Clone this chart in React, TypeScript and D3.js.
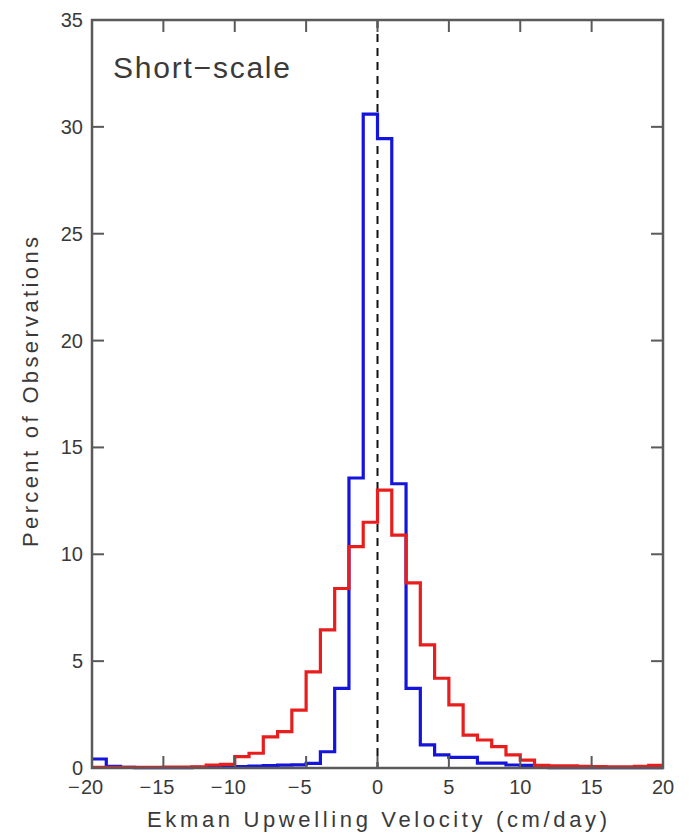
import React from 'react';
import * as d3 from 'd3';

// histogram bins are 1 cm/day wide, left edges from -20 to 19
const binEdges = d3.range(-20, 20);

const blueValues = [
  0.42, 0.08, 0.03, 0.02, 0.02, 0.02, 0.02, 0.03, 0.04, 0.05,
  0.07, 0.09, 0.11, 0.13, 0.15, 0.22, 0.76, 3.73, 13.57, 30.6,
  29.45, 13.3, 3.73, 1.08, 0.61, 0.5, 0.5, 0.23, 0.23, 0.14,
  0.12, 0.03, 0.02, 0.02, 0.02, 0.02, 0.02, 0.02, 0.02, 0.02,
];

const redValues = [
  0.03, 0.03, 0.03, 0.03, 0.03, 0.04, 0.04, 0.05, 0.14, 0.17,
  0.53, 0.69, 1.46, 1.7, 2.71, 4.5, 6.46, 8.4, 10.36, 11.5,
  13.0, 10.9, 8.66, 5.76, 4.2, 2.95, 1.54, 1.31, 1.0, 0.61,
  0.37, 0.12, 0.1, 0.1, 0.08, 0.06, 0.05, 0.05, 0.08, 0.12,
];

const xTicks = [-20, -15, -10, -5, 0, 5, 10, 15, 20];
const yTicks = [0, 5, 10, 15, 20, 25, 30, 35];

const W = 692;
const H = 833;
const margin = { top: 20, right: 29, bottom: 65, left: 92 };
const FONT = '"Liberation Sans", Arial, sans-serif';

export default function App() {
  const x = d3.scaleLinear().domain([-20, 20]).range([margin.left, W - margin.right]);
  const y = d3.scaleLinear().domain([0, 35]).range([H - margin.bottom, margin.top]);
  const [x0, x1] = x.range();
  const [yb, yt] = y.range();

  // step outline, last bin closed at its right edge
  const stepLine = (vals: number[]) => {
    const pts: [number, number][] = binEdges.map((e, i) => [e, vals[i]]);
    pts.push([20, vals[vals.length - 1]]);
    return d3.line<[number, number]>()
      .x(d => x(d[0]))
      .y(d => y(d[1]))
      .curve(d3.curveStepAfter)(pts) || '';
  };

  const axisColor = '#5a5a5a';
  const textColor = '#3a3a3a';
  const tickLen = 12;

  return (
    <svg width={W} height={H} style={{ position: 'absolute', left: 0, top: 0, background: '#fff' }}>
      {/* zero line */}
      <line x1={x(0)} x2={x(0)} y1={yt} y2={yb} stroke="#111" strokeWidth={2} strokeDasharray="8,6" />

      <path d={stepLine(blueValues)} fill="none" stroke="#1414dc" strokeWidth={3.2} />
      <path d={stepLine(redValues)} fill="none" stroke="#e81e1e" strokeWidth={3.2} />

      {/* frame */}
      <rect x={x0} y={yt} width={x1 - x0} height={yb - yt} fill="none" stroke={axisColor} strokeWidth={2.5} />

      {/* x ticks */}
      {xTicks.slice(1, -1).map(t => (
        <g key={'xt' + t}>
          <line x1={x(t)} x2={x(t)} y1={yb} y2={yb - tickLen} stroke={axisColor} strokeWidth={2} />
          <line x1={x(t)} x2={x(t)} y1={yt} y2={yt + tickLen} stroke={axisColor} strokeWidth={2} />
        </g>
      ))}
      {/* y ticks */}
      {yTicks.slice(1, -1).map(t => (
        <g key={'yt' + t}>
          <line x1={x0} x2={x0 + tickLen} y1={y(t)} y2={y(t)} stroke={axisColor} strokeWidth={2} />
          <line x1={x1} x2={x1 - tickLen} y1={y(t)} y2={y(t)} stroke={axisColor} strokeWidth={2} />
        </g>
      ))}

      {/* x tick labels: digits centred on the tick, minus hanging to the left */}
      {xTicks.map(t => {
        const s = String(Math.abs(t));
        const half = s.length * 11.2 / 2;
        return (
          <g key={'xl' + t} fontFamily={FONT} fontSize={20} fill={textColor}>
            <text x={x(t)} y={794} textAnchor="middle">{s}</text>
            {t < 0 && (
              <text x={x(t) - half - 1} y={794} textAnchor="end">−</text>
            )}
          </g>
        );
      })}

      {/* y tick labels */}
      {yTicks.map(t => (
        <text key={'yl' + t} x={83} y={y(t) + 7} textAnchor="end"
          fontFamily={FONT} fontSize={20} fill={textColor}>{t}</text>
      ))}

      {/* axis titles */}
      <text x={377} y={827} textAnchor="middle" fontFamily={FONT} fontSize={22} fill={textColor}
        textLength={460} lengthAdjust="spacing">Ekman Upwelling Velocity (cm/day)</text>
      <text transform={`translate(38,392) rotate(-90)`} textAnchor="middle" fontFamily={FONT} fontSize={22}
        fill={textColor} textLength={310} lengthAdjust="spacing">Percent of Observations</text>

      {/* panel label */}
      <text x={113} y={78} fontFamily={FONT} fontSize={30} fill={textColor}
        textLength={177} lengthAdjust="spacing">Short−scale</text>
    </svg>
  );
}
